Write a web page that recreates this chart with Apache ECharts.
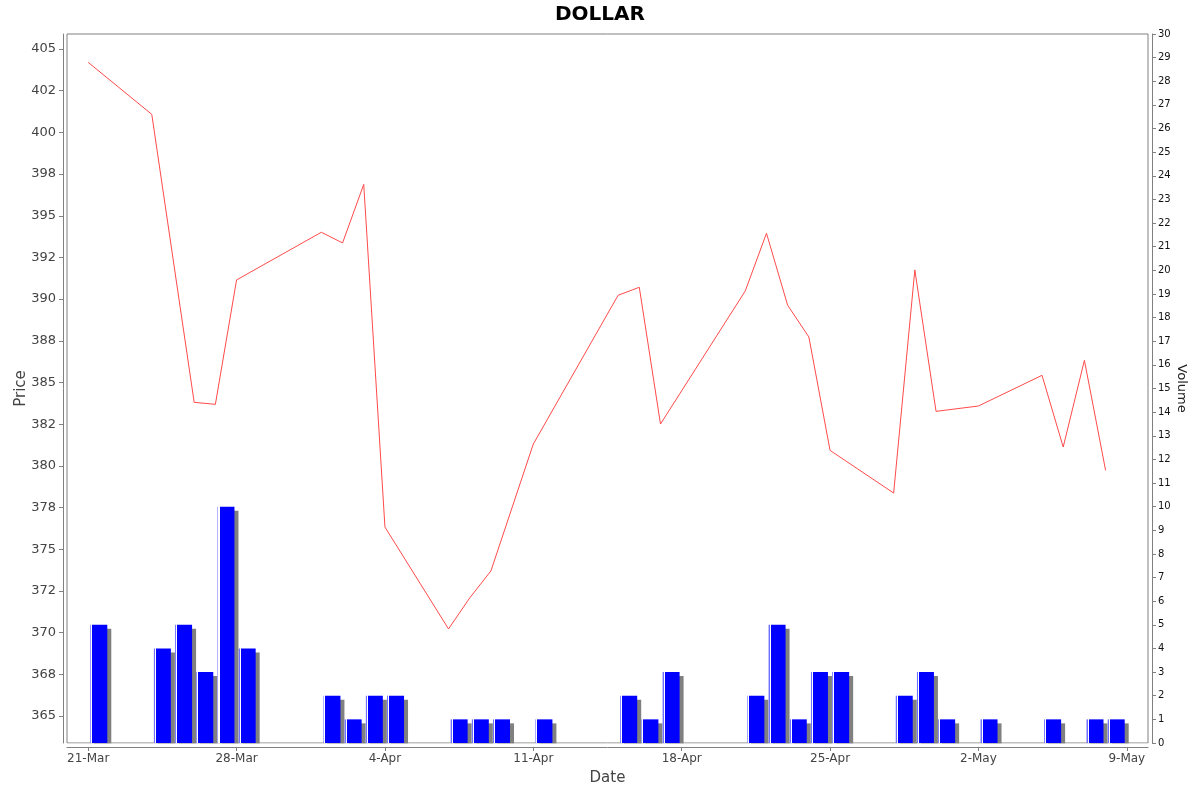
<!DOCTYPE html>
<html>
<head>
<meta charset="utf-8">
<script src="https://cdn.jsdelivr.net/npm/echarts@6/dist/echarts.min.js"></script>
<style>
html,body{margin:0;padding:0;background:#fff;}
#main{width:1200px;height:792px;}
</style>
</head>
<body>
<div id="main"></div>
<script>
// ---- data ----
const startDate = '2024-03-21';
const priceDates = ['2024-03-21','2024-03-24','2024-03-26','2024-03-27','2024-03-28',
  '2024-04-01','2024-04-02','2024-04-03','2024-04-04','2024-04-07','2024-04-08','2024-04-09',
  '2024-04-11','2024-04-15','2024-04-16','2024-04-17','2024-04-21','2024-04-22','2024-04-23',
  '2024-04-24','2024-04-25','2024-04-28','2024-04-29','2024-04-30','2024-05-02','2024-05-05',
  '2024-05-06','2024-05-07','2024-05-08'];
const prices = [404.2, 401.08, 383.81, 383.69, 391.15,
  394.01, 393.37, 396.88, 376.33, 370.22, 372.08, 373.7,
  381.31, 390.23, 390.71, 382.51, 390.49, 393.95, 389.63,
  387.73, 380.93, 378.37, 391.75, 383.27, 383.59, 385.43,
  381.13, 386.33, 379.73];
const volumeDates = ['2024-03-21','2024-03-24','2024-03-25','2024-03-26','2024-03-27','2024-03-28',
  '2024-04-01','2024-04-02','2024-04-03','2024-04-04','2024-04-07','2024-04-08','2024-04-09',
  '2024-04-11','2024-04-15','2024-04-16','2024-04-17','2024-04-21','2024-04-22','2024-04-23',
  '2024-04-24','2024-04-25','2024-04-28','2024-04-29','2024-04-30','2024-05-02','2024-05-05',
  '2024-05-07','2024-05-08'];
const volumes = [5, 4, 5, 3, 10, 4,
  2, 1, 2, 2, 1, 1, 1,
  1, 2, 1, 3, 2, 5, 1,
  3, 3, 2, 3, 1, 1, 1,
  1, 1];
const dateTickDays = [0, 7, 14, 21, 28, 35, 42, 49];
const priceTicks = [365, 367.5, 370, 372.5, 375, 377.5, 380, 382.5, 385, 387.5, 390, 392.5, 395, 397.5, 400, 402.5, 405];
const monthNames = ['Jan','Feb','Mar','Apr','May','Jun','Jul','Aug','Sep','Oct','Nov','Dec'];

// ---- helpers ----
const DAY = 86400000;
const t0 = Date.parse(startDate + 'T00:00:00Z');
function dayOf(s) { return (Date.parse(s + 'T00:00:00Z') - t0) / DAY; }
function dayLabel(d) {
  const dt = new Date(t0 + Math.round(d) * DAY);
  return dt.getUTCDate() + '-' + monthNames[dt.getUTCMonth()];
}
function halfEven(v) {
  const f = Math.floor(v), r = v - f;
  if (Math.abs(r - 0.5) < 1e-9) return (f % 2 === 0) ? f : f + 1;
  return Math.round(v);
}

const priceData = priceDates.map((d, i) => [dayOf(d), prices[i]]);
// bars span the day period (centred half a day after the date)
const volData = volumeDates.map((d, i) => [dayOf(d) + 0.5, volumes[i]]);

const FONT = 'DejaVu Sans';
const chart = echarts.init(document.getElementById('main'), null, {renderer: 'canvas'});
chart.setOption({
  animation: false,
  backgroundColor: '#ffffff',
  title: {
    text: 'DOLLAR', left: 'center', top: 0,
    textStyle: {fontFamily: FONT, fontSize: 20, fontWeight: 'bold', color: '#000'}
  },
  grid: {
    left: 67, right: 52, top: 34, bottom: 49,
    show: true, borderColor: '#808080', borderWidth: 1, backgroundColor: '#ffffff'
  },
  xAxis: {
    type: 'value', min: -1, max: 50, offset: 4, position: 'bottom',
    name: 'Date', nameLocation: 'middle', nameGap: 24, nameMoveOverlap: false,
    nameTextStyle: {fontFamily: FONT, fontSize: 15, color: '#444'},
    axisLine: {show: true, onZero: false, lineStyle: {color: '#808080', width: 1}},
    axisTick: {show: true, length: 4, lineStyle: {color: '#808080'}, customValues: dateTickDays},
    axisLabel: {fontFamily: FONT, fontSize: 12, color: '#444', margin: 6,
      customValues: dateTickDays, formatter: v => dayLabel(v)},
    splitLine: {show: false}
  },
  yAxis: [{
    type: 'value', min: 363.38, max: 405.9, offset: 4, position: 'left',
    name: 'Price', nameLocation: 'middle', nameGap: 34, nameRotate: 90, nameMoveOverlap: false,
    nameTextStyle: {fontFamily: FONT, fontSize: 15, color: '#444'},
    axisLine: {show: true, onZero: false, lineStyle: {color: '#808080', width: 1}},
    axisTick: {show: true, length: 4, lineStyle: {color: '#808080'}, customValues: priceTicks},
    axisLabel: {fontFamily: FONT, fontSize: 13, color: '#444', margin: 7,
      customValues: priceTicks, formatter: v => String(halfEven(v))},
    splitLine: {show: false}
  }, {
    type: 'value', min: 0, max: 30, interval: 1, offset: 4, position: 'right',
    name: 'Volume', nameLocation: 'middle', nameGap: 23, nameRotate: -90, nameMoveOverlap: false,
    nameTextStyle: {fontFamily: FONT, fontSize: 13, color: '#222'},
    axisLine: {show: true, onZero: false, lineStyle: {color: '#808080', width: 1}},
    axisTick: {show: true, length: 4, lineStyle: {color: '#808080'}},
    axisLabel: {fontFamily: FONT, fontSize: 10, color: '#111', margin: 6},
    splitLine: {show: false}
  }],
  series: [{
    type: 'bar', yAxisIndex: 1, data: volData, barWidth: 17,
    itemStyle: {
      color: {type: 'linear', x: 0, y: 0, x2: 1, y2: 0, colorStops: [
        {offset: 0, color: '#7070ff'}, {offset: 0.06, color: '#7070ff'},
        {offset: 0.06, color: '#ffffff'}, {offset: 0.12, color: '#ffffff'},
        {offset: 0.12, color: '#0000ff'}, {offset: 1, color: '#0000ff'}]},
      shadowColor: '#808080', shadowOffsetX: 4, shadowOffsetY: 4, shadowBlur: 0
    },
    emphasis: {disabled: true}, silent: true, z: 2
  }, {
    type: 'line', yAxisIndex: 0, data: priceData, symbol: 'none',
    lineStyle: {color: '#ff4a4a', width: 1},
    emphasis: {disabled: true}, silent: true, z: 3
  }],
  graphic: [{
    type: 'rect', z: 100, silent: true,
    shape: {x: 67, y: 743.6, width: 1082, height: 3.4},
    style: {fill: '#ffffff'}
  }]
});
</script>
</body>
</html>
